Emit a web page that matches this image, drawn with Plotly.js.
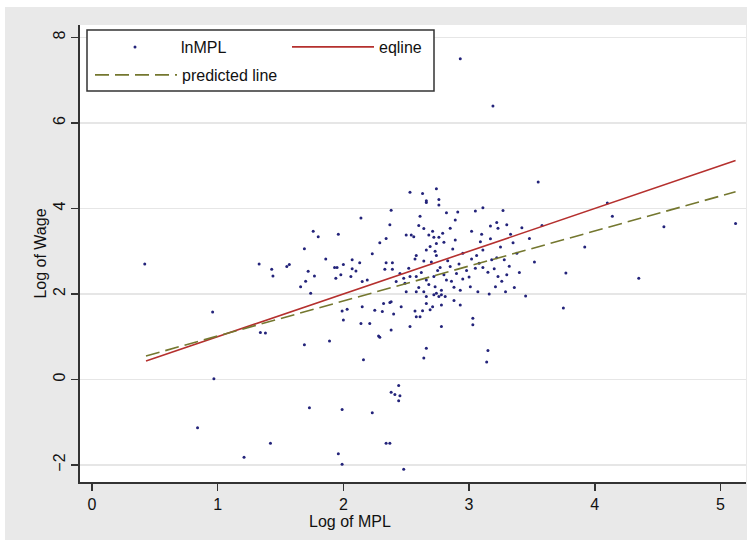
<!DOCTYPE html>
<html>
<head>
<meta charset="utf-8">
<script src="https://cdn.plot.ly/plotly-3.0.1.min.js"></script>
<style>
  html, body { margin: 0; padding: 0; background: #ffffff; }
  #chart { width: 747px; height: 540px; }
</style>
</head>
<body>
<div id="chart"></div>
<script>
// ---- data ----
const mplLog = [
  2.53, 2.63, 2.66, 2.66, 2.74, 2.76, 2.76, 2.38, 2.82, 2.91, 3.05, 3.11, 2.14, 2.89, 2.61, 2.37,
  2.60, 2.64, 2.85, 3.17, 3.22, 3.23, 1.76, 1.80, 1.96, 2.50, 2.54, 2.56, 2.68, 2.71, 2.72, 2.76,
  2.79, 3.02, 3.10, 2.34, 2.29, 3.09, 3.17, 2.89, 2.80, 2.74, 2.69, 1.69, 2.66, 2.87, 2.73, 2.23,
  2.58, 2.95, 2.74, 3.11, 1.86, 2.07, 2.13, 2.00, 2.39, 2.34, 2.64, 3.02, 3.06, 3.18, 3.22, 1.33,
  1.57, 1.55, 1.43, 1.93, 1.95, 2.07, 2.39, 2.33, 1.72, 2.10, 1.98, 1.44, 1.77, 2.06, 1.94, 3.11,
  3.15, 3.20, 3.08, 3.23, 2.85, 2.90, 2.77, 2.82, 2.72, 2.66, 2.58, 2.53, 2.49, 2.48, 2.42, 2.19,
  2.15, 1.70, 1.66, 1.74, 2.73, 2.74, 2.72, 2.76, 2.66, 2.88, 2.93, 3.01, 3.07, 3.16, 3.21, 2.78,
  2.58, 2.66, 2.71, 2.78, 2.81, 2.32, 2.37, 2.46, 2.93, 1.99, 2.03, 2.15, 2.31, 2.40, 2.57, 2.63,
  2.58, 2.61, 2.69, 3.03, 3.03, 2.78, 2.00, 2.14, 2.21, 2.38, 2.28, 2.29, 1.34, 1.38, 1.69, 1.89,
  2.66, 2.53, 2.64, 2.16, 2.25, 2.38,
  0.96, 0.97, 0.84, 1.73, 1.99, 2.23, 2.44, 2.38, 2.41, 2.45, 2.44, 1.42, 1.21, 1.96, 1.99, 2.34,
  2.37, 2.48, 0.42,
  3.27, 3.30, 3.33, 3.35, 3.38, 3.28, 3.32, 3.40, 3.45, 3.36, 3.26, 3.30, 3.42, 3.48, 3.25, 3.29,
  3.15, 3.14, 3.52, 3.58, 3.55, 3.77, 3.75, 4.10, 4.14, 4.55, 4.35, 5.12, 3.92, 2.93, 3.19,
  2.62, 2.68, 2.80, 2.86, 2.75, 2.95, 2.60, 2.98, 2.70, 2.52, 2.45, 2.57, 2.83, 2.92, 3.00, 3.05,
  2.78, 2.88, 2.50, 2.64
];
const wageLog = [
  4.38, 4.35, 4.18, 4.14, 4.46, 4.21, 4.08, 3.96, 3.90, 3.92, 3.94, 4.02, 3.78, 3.73, 3.82, 3.62,
  3.60, 3.53, 3.54, 3.59, 3.67, 3.54, 3.47, 3.34, 3.40, 3.38, 3.38, 3.34, 3.38, 3.47, 3.33, 3.33,
  3.42, 3.47, 3.40, 3.30, 3.20, 3.22, 3.29, 3.26, 3.21, 3.18, 3.11, 3.06, 3.03, 3.05, 3.00, 2.94,
  2.90, 2.95, 2.90, 3.03, 2.82, 2.80, 2.73, 2.69, 2.73, 2.73, 2.77, 2.82, 2.90, 2.80, 2.85, 2.70,
  2.69, 2.64, 2.58, 2.62, 2.62, 2.59, 2.58, 2.58, 2.53, 2.54, 2.45, 2.42, 2.42, 2.41, 2.37, 2.62,
  2.51, 2.59, 2.72, 2.41, 2.64, 2.48, 2.62, 2.33, 2.41, 2.33, 2.41, 2.41, 2.25, 2.37, 2.29, 2.33,
  2.29, 2.30, 2.17, 2.02, 2.17, 2.02, 1.98, 1.94, 1.94, 2.16, 2.09, 2.17, 2.05, 2.00, 2.17, 2.09,
  2.05, 1.78, 1.70, 1.74, 1.94, 1.78, 1.80, 1.70, 1.74, 1.60, 1.64, 1.70, 1.59, 1.53, 1.60, 1.61,
  1.47, 1.47, 1.63, 1.43, 1.28, 1.24, 1.39, 1.31, 1.31, 1.16, 1.02, 0.99, 1.10, 1.09, 0.81, 0.90,
  0.73, 1.24, 0.50, 0.46, 1.62, 1.82,
  1.58, 0.02, -1.13, -0.66, -0.70, -0.78, -0.14, -0.30, -0.35, -0.38, -0.50, -1.49, -1.82, -1.74, -1.98, -1.49,
  -1.49, -2.10, 2.70,
  3.95, 3.62, 3.40, 3.20, 2.95, 2.80, 2.65, 2.50, 1.95, 2.15, 2.30, 2.45, 3.55, 3.30, 3.10, 2.05,
  0.68, 0.41, 2.75, 3.60, 4.62, 2.49, 1.67, 4.13, 3.82, 3.57, 2.37, 3.65, 3.10, 7.50, 6.40,
  2.50, 2.22, 2.45, 2.30, 2.55, 2.35, 2.15, 2.55, 2.75, 2.60, 2.48, 2.82, 2.78, 2.70, 2.40, 2.60,
  1.98, 1.85, 2.05, 2.05
];
const eqlineX = [0.43, 5.12];
const eqlineY = [0.43, 5.12];
const predX = [0.43, 5.12];
const predY = [0.55, 4.39];
const xTicks = [0, 1, 2, 3, 4, 5];
const yTicks = [-2, 0, 2, 4, 6, 8];
const xTitle = 'Log of MPL';
const yTitle = 'Log of Wage';

// ---- layout helpers (pixel -> paper) ----
const W = 747, H = 540;
const M = { l: 80, r: 1, t: 25, b: 58 };
const PW = W - M.l - M.r, PH = H - M.t - M.b;
const px = v => (v - M.l) / PW;
const py = v => (H - M.b - v) / PH;

const FONT = 'Liberation Sans, Arial, sans-serif';

const traces = [
  {
    type: 'scatter', mode: 'markers', name: 'lnMPL',
    x: mplLog, y: wageLog,
    marker: { symbol: 'circle', size: 3, color: '#23237a', line: { width: 0 } },
    legend: 'legend', cliponaxis: false
  },
  {
    type: 'scatter', mode: 'lines', name: 'eqline',
    x: eqlineX, y: eqlineY,
    line: { color: '#b5302e', width: 1.6 },
    legend: 'legend2'
  },
  {
    type: 'scatter', mode: 'lines', name: 'predicted line',
    x: predX, y: predY,
    line: { color: '#74772f', width: 1.6, dash: '14px,6px' },
    legend: 'legend3'
  }
];

const legendCommon = {
  bgcolor: 'rgba(0,0,0,0)', borderwidth: 0, orientation: 'v',
  itemwidth: 82, font: { family: FONT, size: 16, color: '#111' },
  xanchor: 'left', yanchor: 'middle'
};

const layout = {
  width: W, height: H,
  margin: M,
  paper_bgcolor: '#e9e9e9',
  plot_bgcolor: '#ffffff',
  font: { family: FONT, size: 16, color: '#111' },
  showlegend: true,
  xaxis: {
    range: [-0.095, 5.203],
    tickmode: 'array', tickvals: xTicks,
    ticks: 'outside', ticklen: 7, tickwidth: 1.5, tickcolor: '#333',
    showline: true, linecolor: '#333', linewidth: 1.6,
    showgrid: false, zeroline: false,
    tickfont: { family: FONT, size: 16, color: '#111' },
    automargin: false
  },
  yaxis: {
    range: [-2.398, 8.292],
    tickmode: 'array', tickvals: yTicks,
    ticks: 'outside', ticklen: 7, tickwidth: 1.5, tickcolor: '#333',
    tickangle: -90,
    showline: true, linecolor: '#333', linewidth: 1.6,
    showgrid: true, gridcolor: '#e6e6e6', gridwidth: 1.5,
    zeroline: false,
    tickfont: { family: FONT, size: 16, color: '#111' },
    title: { text: yTitle, font: { family: FONT, size: 16, color: '#111' }, standoff: 0 },
    automargin: false
  },
  annotations: [
    // x-axis title: in the (cropped) reference it sits left of the plot centre
    { text: xTitle, xref: 'paper', yref: 'paper', x: px(350), y: py(521),
      xanchor: 'center', yanchor: 'middle', showarrow: false,
      font: { family: FONT, size: 16, color: '#111' } }
  ],
  legend:  Object.assign({}, legendCommon, { x: px(89),  y: py(47) }),
  legend2: Object.assign({}, legendCommon, { x: px(287), y: py(47) }),
  legend3: Object.assign({}, legendCommon, { x: px(90),  y: py(75) }),
  shapes: [
    // legend frame
    { type: 'rect', xref: 'paper', yref: 'paper', layer: 'above',
      x0: px(87), x1: px(434), y0: py(91), y1: py(30),
      line: { color: '#333', width: 1.5 }, fillcolor: '#ffffff' },
    // white strips outside the grey graph background (top and left)
    { type: 'rect', xref: 'paper', yref: 'paper', layer: 'below',
      x0: px(0), x1: px(747), y0: py(7), y1: py(0),
      line: { width: 0 }, fillcolor: '#ffffff' },
    { type: 'rect', xref: 'paper', yref: 'paper', layer: 'below',
      x0: px(0), x1: px(5), y0: py(540), y1: py(0),
      line: { width: 0 }, fillcolor: '#ffffff' }
  ]
};

Plotly.newPlot('chart', traces, layout, { staticPlot: true, displayModeBar: false });
</script>
</body>
</html>
